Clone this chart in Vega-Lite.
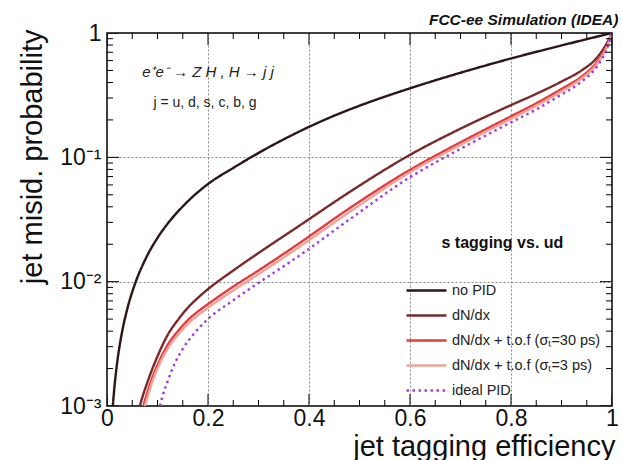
{
  "$schema": "https://vega.github.io/schema/vega-lite/v6.json",
  "width": 505,
  "height": 373,
  "autosize": {"type": "none"},
  "padding": {"left": 107, "top": 33, "right": 9, "bottom": 54},
  "background": "white",
  "title": {"text": "FCC-ee Simulation (IDEA)", "anchor": "end", "fontSize": 15.5, "fontWeight": "bold", "fontStyle": "italic", "font": "Liberation Sans", "color": "#111", "offset": 9, "dy": 15},
  "config": {
    "font": "Liberation Sans",
    "view": {"stroke": "black", "strokeWidth": 1.5}
  },
  "datasets": {
    "xticks": [
      {"v": 0, "kind": "major"}, {"v": 0.05, "kind": "minor"}, {"v": 0.1, "kind": "minor"}, {"v": 0.15, "kind": "minor"},
      {"v": 0.2, "kind": "major"}, {"v": 0.25, "kind": "minor"}, {"v": 0.3, "kind": "minor"}, {"v": 0.35, "kind": "minor"},
      {"v": 0.4, "kind": "major"}, {"v": 0.45, "kind": "minor"}, {"v": 0.5, "kind": "minor"}, {"v": 0.55, "kind": "minor"},
      {"v": 0.6, "kind": "major"}, {"v": 0.65, "kind": "minor"}, {"v": 0.7, "kind": "minor"}, {"v": 0.75, "kind": "minor"},
      {"v": 0.8, "kind": "major"}, {"v": 0.85, "kind": "minor"}, {"v": 0.9, "kind": "minor"}, {"v": 0.95, "kind": "minor"},
      {"v": 1, "kind": "major"}
    ],
    "yticks": [
      {"v": 0.001, "kind": "major"}, {"v": 0.002, "kind": "minor"}, {"v": 0.003, "kind": "minor"}, {"v": 0.004, "kind": "minor"}, {"v": 0.005, "kind": "minor"}, {"v": 0.006, "kind": "minor"}, {"v": 0.007, "kind": "minor"}, {"v": 0.008, "kind": "minor"}, {"v": 0.009, "kind": "minor"},
      {"v": 0.01, "kind": "major"}, {"v": 0.02, "kind": "minor"}, {"v": 0.03, "kind": "minor"}, {"v": 0.04, "kind": "minor"}, {"v": 0.05, "kind": "minor"}, {"v": 0.06, "kind": "minor"}, {"v": 0.07, "kind": "minor"}, {"v": 0.08, "kind": "minor"}, {"v": 0.09, "kind": "minor"},
      {"v": 0.1, "kind": "major"}, {"v": 0.2, "kind": "minor"}, {"v": 0.3, "kind": "minor"}, {"v": 0.4, "kind": "minor"}, {"v": 0.5, "kind": "minor"}, {"v": 0.6, "kind": "minor"}, {"v": 0.7, "kind": "minor"}, {"v": 0.8, "kind": "minor"}, {"v": 0.9, "kind": "minor"},
      {"v": 1, "kind": "major"}
    ],
    "curves": [
      {"eff": 0.0115, "prob": 0.001, "series": "no PID"},
      {"eff": 0.015, "prob": 0.00146, "series": "no PID"},
      {"eff": 0.02, "prob": 0.00221, "series": "no PID"},
      {"eff": 0.03, "prob": 0.00397, "series": "no PID"},
      {"eff": 0.04, "prob": 0.006, "series": "no PID"},
      {"eff": 0.057, "prob": 0.01, "series": "no PID"},
      {"eff": 0.075, "prob": 0.01485, "series": "no PID"},
      {"eff": 0.1, "prob": 0.0225, "series": "no PID"},
      {"eff": 0.125, "prob": 0.031, "series": "no PID"},
      {"eff": 0.15, "prob": 0.0403, "series": "no PID"},
      {"eff": 0.2, "prob": 0.061, "series": "no PID"},
      {"eff": 0.25, "prob": 0.0822, "series": "no PID"},
      {"eff": 0.3, "prob": 0.1084, "series": "no PID"},
      {"eff": 0.35, "prob": 0.1396, "series": "no PID"},
      {"eff": 0.4, "prob": 0.1758, "series": "no PID"},
      {"eff": 0.45, "prob": 0.2163, "series": "no PID"},
      {"eff": 0.5, "prob": 0.26, "series": "no PID"},
      {"eff": 0.6, "prob": 0.359, "series": "no PID"},
      {"eff": 0.7, "prob": 0.479, "series": "no PID"},
      {"eff": 0.8, "prob": 0.624, "series": "no PID"},
      {"eff": 0.9, "prob": 0.794, "series": "no PID"},
      {"eff": 1.0, "prob": 1.0, "series": "no PID"},

      {"eff": 0.065, "prob": 0.001, "series": "dN/dx"},
      {"eff": 0.07, "prob": 0.001175, "series": "dN/dx"},
      {"eff": 0.08, "prob": 0.00155, "series": "dN/dx"},
      {"eff": 0.09, "prob": 0.002, "series": "dN/dx"},
      {"eff": 0.1, "prob": 0.00251, "series": "dN/dx"},
      {"eff": 0.12, "prob": 0.00372, "series": "dN/dx"},
      {"eff": 0.14, "prob": 0.0049, "series": "dN/dx"},
      {"eff": 0.16, "prob": 0.00617, "series": "dN/dx"},
      {"eff": 0.18, "prob": 0.00741, "series": "dN/dx"},
      {"eff": 0.2, "prob": 0.00871, "series": "dN/dx"},
      {"eff": 0.25, "prob": 0.0123, "series": "dN/dx"},
      {"eff": 0.3, "prob": 0.017, "series": "dN/dx"},
      {"eff": 0.381, "prob": 0.0282, "series": "dN/dx"},
      {"eff": 0.48, "prob": 0.0525, "series": "dN/dx"},
      {"eff": 0.6, "prob": 0.1047, "series": "dN/dx"},
      {"eff": 0.7, "prob": 0.17, "series": "dN/dx"},
      {"eff": 0.8, "prob": 0.263, "series": "dN/dx"},
      {"eff": 0.85, "prob": 0.324, "series": "dN/dx"},
      {"eff": 0.9, "prob": 0.407, "series": "dN/dx"},
      {"eff": 0.94, "prob": 0.501, "series": "dN/dx"},
      {"eff": 0.97, "prob": 0.631, "series": "dN/dx"},
      {"eff": 0.99, "prob": 0.832, "series": "dN/dx"},
      {"eff": 1.0, "prob": 1.0, "series": "dN/dx"},

      {"eff": 0.072, "prob": 0.001, "series": "dN/dx + t.o.f (σₜ=30 ps)"},
      {"eff": 0.08, "prob": 0.00129, "series": "dN/dx + t.o.f (σₜ=30 ps)"},
      {"eff": 0.09, "prob": 0.0017, "series": "dN/dx + t.o.f (σₜ=30 ps)"},
      {"eff": 0.1, "prob": 0.00214, "series": "dN/dx + t.o.f (σₜ=30 ps)"},
      {"eff": 0.12, "prob": 0.00309, "series": "dN/dx + t.o.f (σₜ=30 ps)"},
      {"eff": 0.14, "prob": 0.00398, "series": "dN/dx + t.o.f (σₜ=30 ps)"},
      {"eff": 0.16, "prob": 0.0049, "series": "dN/dx + t.o.f (σₜ=30 ps)"},
      {"eff": 0.18, "prob": 0.00575, "series": "dN/dx + t.o.f (σₜ=30 ps)"},
      {"eff": 0.2, "prob": 0.0066, "series": "dN/dx + t.o.f (σₜ=30 ps)"},
      {"eff": 0.25, "prob": 0.00912, "series": "dN/dx + t.o.f (σₜ=30 ps)"},
      {"eff": 0.3, "prob": 0.0123, "series": "dN/dx + t.o.f (σₜ=30 ps)"},
      {"eff": 0.381, "prob": 0.0204, "series": "dN/dx + t.o.f (σₜ=30 ps)"},
      {"eff": 0.48, "prob": 0.0389, "series": "dN/dx + t.o.f (σₜ=30 ps)"},
      {"eff": 0.6, "prob": 0.0794, "series": "dN/dx + t.o.f (σₜ=30 ps)"},
      {"eff": 0.7, "prob": 0.132, "series": "dN/dx + t.o.f (σₜ=30 ps)"},
      {"eff": 0.8, "prob": 0.214, "series": "dN/dx + t.o.f (σₜ=30 ps)"},
      {"eff": 0.85, "prob": 0.272, "series": "dN/dx + t.o.f (σₜ=30 ps)"},
      {"eff": 0.9, "prob": 0.355, "series": "dN/dx + t.o.f (σₜ=30 ps)"},
      {"eff": 0.94, "prob": 0.447, "series": "dN/dx + t.o.f (σₜ=30 ps)"},
      {"eff": 0.97, "prob": 0.582, "series": "dN/dx + t.o.f (σₜ=30 ps)"},
      {"eff": 0.99, "prob": 0.794, "series": "dN/dx + t.o.f (σₜ=30 ps)"},
      {"eff": 1.0, "prob": 1.0, "series": "dN/dx + t.o.f (σₜ=30 ps)"},

      {"eff": 0.075, "prob": 0.001, "series": "dN/dx + t.o.f (σₜ=3 ps)"},
      {"eff": 0.08, "prob": 0.001175, "series": "dN/dx + t.o.f (σₜ=3 ps)"},
      {"eff": 0.09, "prob": 0.00158, "series": "dN/dx + t.o.f (σₜ=3 ps)"},
      {"eff": 0.1, "prob": 0.002, "series": "dN/dx + t.o.f (σₜ=3 ps)"},
      {"eff": 0.12, "prob": 0.00288, "series": "dN/dx + t.o.f (σₜ=3 ps)"},
      {"eff": 0.14, "prob": 0.00372, "series": "dN/dx + t.o.f (σₜ=3 ps)"},
      {"eff": 0.16, "prob": 0.00457, "series": "dN/dx + t.o.f (σₜ=3 ps)"},
      {"eff": 0.18, "prob": 0.00537, "series": "dN/dx + t.o.f (σₜ=3 ps)"},
      {"eff": 0.2, "prob": 0.00617, "series": "dN/dx + t.o.f (σₜ=3 ps)"},
      {"eff": 0.25, "prob": 0.00851, "series": "dN/dx + t.o.f (σₜ=3 ps)"},
      {"eff": 0.3, "prob": 0.0115, "series": "dN/dx + t.o.f (σₜ=3 ps)"},
      {"eff": 0.381, "prob": 0.0191, "series": "dN/dx + t.o.f (σₜ=3 ps)"},
      {"eff": 0.48, "prob": 0.0363, "series": "dN/dx + t.o.f (σₜ=3 ps)"},
      {"eff": 0.6, "prob": 0.0759, "series": "dN/dx + t.o.f (σₜ=3 ps)"},
      {"eff": 0.7, "prob": 0.126, "series": "dN/dx + t.o.f (σₜ=3 ps)"},
      {"eff": 0.8, "prob": 0.204, "series": "dN/dx + t.o.f (σₜ=3 ps)"},
      {"eff": 0.85, "prob": 0.26, "series": "dN/dx + t.o.f (σₜ=3 ps)"},
      {"eff": 0.9, "prob": 0.339, "series": "dN/dx + t.o.f (σₜ=3 ps)"},
      {"eff": 0.94, "prob": 0.432, "series": "dN/dx + t.o.f (σₜ=3 ps)"},
      {"eff": 0.97, "prob": 0.562, "series": "dN/dx + t.o.f (σₜ=3 ps)"},
      {"eff": 0.99, "prob": 0.776, "series": "dN/dx + t.o.f (σₜ=3 ps)"},
      {"eff": 1.0, "prob": 1.0, "series": "dN/dx + t.o.f (σₜ=3 ps)"},

      {"eff": 0.105, "prob": 0.001, "series": "ideal PID"},
      {"eff": 0.11, "prob": 0.0012, "series": "ideal PID"},
      {"eff": 0.12, "prob": 0.00158, "series": "ideal PID"},
      {"eff": 0.134, "prob": 0.00219, "series": "ideal PID"},
      {"eff": 0.15, "prob": 0.00288, "series": "ideal PID"},
      {"eff": 0.174, "prob": 0.00389, "series": "ideal PID"},
      {"eff": 0.2, "prob": 0.00501, "series": "ideal PID"},
      {"eff": 0.25, "prob": 0.00708, "series": "ideal PID"},
      {"eff": 0.3, "prob": 0.00977, "series": "ideal PID"},
      {"eff": 0.381, "prob": 0.0162, "series": "ideal PID"},
      {"eff": 0.48, "prob": 0.0316, "series": "ideal PID"},
      {"eff": 0.6, "prob": 0.0692, "series": "ideal PID"},
      {"eff": 0.7, "prob": 0.117, "series": "ideal PID"},
      {"eff": 0.8, "prob": 0.191, "series": "ideal PID"},
      {"eff": 0.85, "prob": 0.243, "series": "ideal PID"},
      {"eff": 0.9, "prob": 0.32, "series": "ideal PID"},
      {"eff": 0.94, "prob": 0.407, "series": "ideal PID"},
      {"eff": 0.97, "prob": 0.537, "series": "ideal PID"},
      {"eff": 0.99, "prob": 0.75, "series": "ideal PID"},
      {"eff": 1.0, "prob": 1.0, "series": "ideal PID"}
    ]
  },
  "resolve": {"axis": {"x": "independent", "y": "independent"}},
  "layer": [
    {
      "data": {"name": "curves"},
      "mark": {"type": "line", "strokeWidth": 2.4, "clip": true, "interpolate": "monotone"},
      "encoding": {
        "x": {
          "field": "eff", "type": "quantitative",
          "scale": {"domain": [0, 1], "nice": false, "zero": false},
          "axis": {
            "orient": "bottom",
            "values": [0, 0.2, 0.4, 0.6, 0.8, 1],
            "labelExpr": "format(datum.value, '~g')",
            "labelFontSize": 23, "labelColor": "#111", "labelPadding": 1,
            "labelFlush": false, "labelOverlap": false,
            "domain": false, "ticks": false,
            "grid": true, "gridDash": [2, 2], "gridColor": "#888", "gridWidth": 1,
            "gridOpacity": {"condition": {"test": "datum.value > 0.01 && datum.value < 0.99", "value": 1}, "value": 0},
            "title": "jet tagging efficiency", "titleFontSize": 29, "titleFontWeight": "normal", "titleColor": "#111",
            "titleAnchor": "end", "titleAlign": "right", "titleX": 508, "titleY": 49, "titleBaseline": "alphabetic"
          }
        },
        "y": {
          "field": "prob", "type": "quantitative",
          "scale": {"type": "log", "domain": [0.001, 1], "nice": false},
          "axis": {
            "orient": "left",
            "values": [0.001, 0.01, 0.1, 1],
            "labelExpr": "datum.value > 0.999 ? '1' : abs(datum.value - 0.1) < 1e-9 ? '10⁻¹' : abs(datum.value - 0.01) < 1e-10 ? '10⁻²' : '10⁻³'",
            "labelFontSize": 23, "labelColor": "#111", "labelPadding": 6,
            "labelFlush": false, "labelOverlap": false,
            "domain": false, "ticks": false,
            "grid": true, "gridDash": [2, 2], "gridColor": "#888", "gridWidth": 1,
            "gridOpacity": {"condition": {"test": "datum.value > 0.0011 && datum.value < 0.99", "value": 1}, "value": 0},
            "title": "jet misid. probability", "titleFontSize": 29, "titleFontWeight": "normal", "titleColor": "#111",
            "titleAngle": -90, "titleAlign": "right", "titleBaseline": "middle", "titleX": -75, "titleY": -4
          }
        },
        "color": {
          "field": "series", "type": "nominal",
          "scale": {
            "domain": ["no PID", "dN/dx", "dN/dx + t.o.f (σₜ=30 ps)", "dN/dx + t.o.f (σₜ=3 ps)", "ideal PID"],
            "range": ["#2e1616", "#7a2a2a", "#e23c3c", "#f2a29a", "#a23fd6"]
          },
          "legend": {
            "title": null, "orient": "none", "legendX": 308, "legendY": 246,
            "symbolType": "M-2,0H2", "symbolSize": 400, "symbolStrokeWidth": 2.6,
            "labelFontSize": 14.5, "labelColor": "#222", "rowPadding": 7, "labelOffset": 14
          }
        },
        "strokeDash": {
          "field": "series", "type": "nominal",
          "scale": {
            "domain": ["no PID", "dN/dx", "dN/dx + t.o.f (σₜ=30 ps)", "dN/dx + t.o.f (σₜ=3 ps)", "ideal PID"],
            "range": [[1, 0], [1, 0], [1, 0], [1, 0], [2.5, 3.5]]
          },
          "legend": null
        }
      }
    },
    {
      "data": {"values": [{}]},
      "mark": {"type": "text", "fontSize": 15, "fontStyle": "italic", "color": "#222"},
      "encoding": {
        "x": {"datum": 0.2, "type": "quantitative", "axis": null},
        "y": {"datum": 0.485, "type": "quantitative", "axis": null},
        "text": {"value": "e⁺e⁻ → Z H , H → j j"}
      }
    },
    {
      "data": {"values": [{}]},
      "mark": {"type": "text", "fontSize": 14, "color": "#222"},
      "encoding": {
        "x": {"datum": 0.194, "type": "quantitative", "axis": null},
        "y": {"datum": 0.273, "type": "quantitative", "axis": null},
        "text": {"value": "j = u, d, s, c, b, g"}
      }
    },
    {
      "data": {"values": [{}]},
      "mark": {"type": "text", "fontSize": 16, "fontWeight": "bold", "color": "#111"},
      "encoding": {
        "x": {"datum": 0.783, "type": "quantitative", "axis": null},
        "y": {"datum": 0.0204, "type": "quantitative", "axis": null},
        "text": {"value": "s tagging vs. ud"}
      }
    },
    {
      "data": {"name": "xticks"},
      "mark": {"type": "tick", "orient": "vertical", "thickness": 1, "color": "black", "opacity": 1, "clip": true},
      "encoding": {
        "x": {"field": "v", "type": "quantitative", "axis": null},
        "y": {"datum": 0.001, "type": "quantitative", "axis": null},
        "size": {"field": "kind", "type": "nominal", "scale": {"domain": ["major", "minor"], "range": [24, 12]}, "legend": null}
      }
    },
    {
      "data": {"name": "xticks"},
      "mark": {"type": "tick", "orient": "vertical", "thickness": 1, "color": "black", "opacity": 1, "clip": true},
      "encoding": {
        "x": {"field": "v", "type": "quantitative", "axis": null},
        "y": {"datum": 1, "type": "quantitative", "axis": null},
        "size": {"field": "kind", "type": "nominal", "scale": {"domain": ["major", "minor"], "range": [24, 12]}, "legend": null}
      }
    },
    {
      "data": {"name": "yticks"},
      "mark": {"type": "tick", "orient": "horizontal", "thickness": 1, "color": "black", "opacity": 1, "clip": true},
      "encoding": {
        "y": {"field": "v", "type": "quantitative", "axis": null},
        "x": {"datum": 0, "type": "quantitative", "axis": null},
        "size": {"field": "kind", "type": "nominal", "scale": {"domain": ["major", "minor"], "range": [24, 12]}, "legend": null}
      }
    },
    {
      "data": {"name": "yticks"},
      "mark": {"type": "tick", "orient": "horizontal", "thickness": 1, "color": "black", "opacity": 1, "clip": true},
      "encoding": {
        "y": {"field": "v", "type": "quantitative", "axis": null},
        "x": {"datum": 1, "type": "quantitative", "axis": null},
        "size": {"field": "kind", "type": "nominal", "scale": {"domain": ["major", "minor"], "range": [24, 12]}, "legend": null}
      }
    }
  ]
}
